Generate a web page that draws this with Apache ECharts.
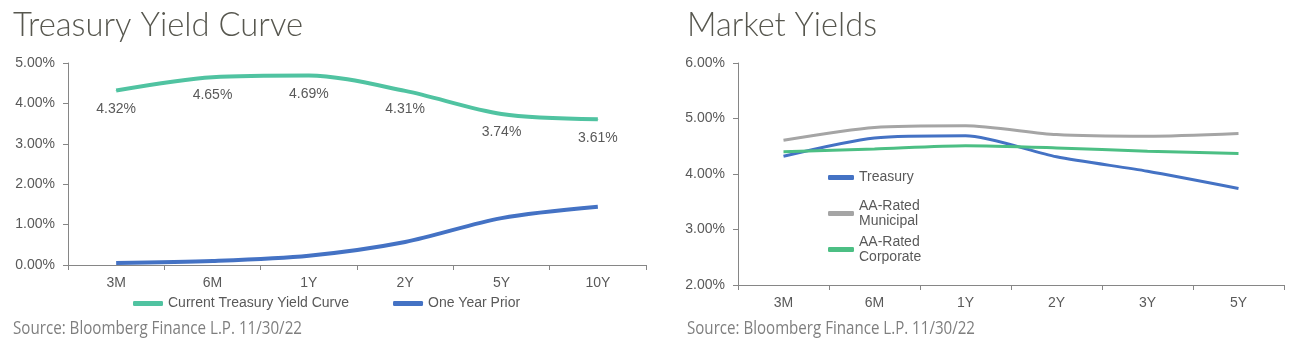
<!DOCTYPE html>
<html>
<head>
<meta charset="utf-8">
<script src="https://cdn.jsdelivr.net/npm/echarts@6/dist/echarts.min.js"></script>
<style>
html,body{margin:0;padding:0;background:#fff;}
#chart{width:1314px;height:346px;}
</style>
</head>
<body>
<div id="chart"></div>
<script>
// ---- data ----
const titleLeft = 'Treasury Yield Curve';
const titleRight = 'Market Yields';
const sourceText = 'Source: Bloomberg Finance L.P. 11/30/22';

const treasuryCats = ['3M', '6M', '1Y', '2Y', '5Y', '10Y'];
const currentCurve = [4.32, 4.65, 4.69, 4.31, 3.74, 3.61];
const oneYearPrior = [0.05, 0.10, 0.23, 0.57, 1.16, 1.44];

const marketCats = ['3M', '6M', '1Y', '2Y', '3Y', '5Y'];
const treasuryYields = [4.32, 4.65, 4.69, 4.31, 4.05, 3.74];
const municipalYields = [4.61, 4.84, 4.87, 4.71, 4.68, 4.73];
const corporateYields = [4.40, 4.45, 4.51, 4.47, 4.41, 4.37];

const leftNames = ['Current Treasury Yield Curve', 'One Year Prior'];
const rightNames = ['Treasury', 'AA-Rated\nMunicipal', 'AA-Rated\nCorporate'];

// ---- styling ----
const axisGray = '#868686';
const labelGray = '#595959';
const titleColor = '#57574f';
const srcColor = '#7f7f7f';
const cGreen = '#50c3a1';
const cBlue = '#4472c4';
const cGray = '#a5a5a5';
const cGreen2 = '#4cbf84';
const fs = 14;
const ff = 'Liberation Sans, Arial';

const ctx = document.createElement('canvas').getContext('2d');
function textW(t, font) { ctx.font = font; return ctx.measureText(t).width; }
const titleFont = '300 33px Lato';
const srcFont = '18px "Open Sans"';

function titleEl(text, x, targetW) {
  const s = targetW / textW(text, titleFont);
  return { type: 'text', x: x, y: 25, scaleX: s, style: { text: text, font: titleFont, fill: titleColor, verticalAlign: 'middle', align: 'left' } };
}
function srcEl(text, x, targetW) {
  const s = targetW / textW(text, srcFont);
  return { type: 'text', x: x, y: 329, scaleX: s, style: { text: text, font: srcFont, fill: srcColor, verticalAlign: 'middle', align: 'left' } };
}

const pct = v => v.toFixed(2) + '%';

function xAxis(gi, cats) {
  return {
    type: 'category', gridIndex: gi, data: cats, boundaryGap: true,
    axisLine: { lineStyle: { color: axisGray, width: 1 } },
    axisTick: { show: true, length: 5, interval: 0, lineStyle: { color: axisGray } },
    axisLabel: { color: labelGray, fontSize: fs, fontFamily: ff, margin: 11, interval: 0 },
    splitLine: { show: false }
  };
}
function yAxis(gi, min, max) {
  return {
    type: 'value', gridIndex: gi, min: min, max: max, interval: 1,
    axisLine: { show: true, lineStyle: { color: axisGray, width: 1 } },
    axisTick: { show: true, length: 5, lineStyle: { color: axisGray } },
    axisLabel: { color: labelGray, fontSize: fs, fontFamily: ff, margin: 13, formatter: pct },
    splitLine: { show: false }
  };
}

const legendText = { color: labelGray, fontSize: fs, fontFamily: ff, lineHeight: 15 };
const legendText2 = Object.assign({}, legendText, { padding: [15, 0, 0, 0] });

const chart = echarts.init(document.getElementById('chart'), null, { renderer: 'canvas' });
chart.setOption({
  animation: false,
  backgroundColor: '#fff',
  graphic: [
    titleEl(titleLeft, 13, 290),
    titleEl(titleRight, 687, 190),
    srcEl(sourceText, 13, 289),
    srcEl(sourceText, 687, 288)
  ],
  grid: [
    { left: 68, top: 63, width: 578, height: 202 },
    { left: 738, top: 63, width: 546, height: 222 }
  ],
  xAxis: [xAxis(0, treasuryCats), xAxis(1, marketCats)],
  yAxis: [yAxis(0, 0, 5), yAxis(1, 2, 6)],
  legend: [
    { data: leftNames, left: 133, top: 296, padding: 0, orient: 'horizontal', itemWidth: 30, itemHeight: 5, itemGap: 44, icon: 'roundRect', textStyle: legendText, selectedMode: false },
    { data: [rightNames[0]], left: 828, top: 170, padding: 0, itemWidth: 26, itemHeight: 5, icon: 'roundRect', textStyle: legendText, selectedMode: false },
    { data: [rightNames[1]], left: 828, top: 191, padding: 0, itemWidth: 26, itemHeight: 5, icon: 'roundRect', textStyle: legendText2, selectedMode: false },
    { data: [rightNames[2]], left: 828, top: 227, padding: 0, itemWidth: 26, itemHeight: 5, icon: 'roundRect', textStyle: legendText2, selectedMode: false }
  ],
  series: [
    {
      name: leftNames[0], type: 'line', xAxisIndex: 0, yAxisIndex: 0, data: currentCurve,
      smooth: 0.3, symbol: 'circle', symbolSize: 1, showSymbol: true,
      lineStyle: { color: cGreen, width: 4 }, itemStyle: { color: cGreen },
      label: { show: true, position: 'bottom', distance: 11, color: labelGray, fontSize: fs, fontFamily: ff, formatter: p => pct(p.value) }
    },
    {
      name: leftNames[1], type: 'line', xAxisIndex: 0, yAxisIndex: 0, data: oneYearPrior,
      smooth: 0.3, symbol: 'none',
      lineStyle: { color: cBlue, width: 4 }, itemStyle: { color: cBlue }
    },
    {
      name: rightNames[0], type: 'line', xAxisIndex: 1, yAxisIndex: 1, data: treasuryYields,
      smooth: 0.25, symbol: 'none',
      lineStyle: { color: cBlue, width: 3 }, itemStyle: { color: cBlue }
    },
    {
      name: rightNames[1], type: 'line', xAxisIndex: 1, yAxisIndex: 1, data: municipalYields,
      smooth: 0.25, symbol: 'none',
      lineStyle: { color: cGray, width: 3 }, itemStyle: { color: cGray }
    },
    {
      name: rightNames[2], type: 'line', xAxisIndex: 1, yAxisIndex: 1, data: corporateYields,
      smooth: 0.25, symbol: 'none',
      lineStyle: { color: cGreen2, width: 3 }, itemStyle: { color: cGreen2 }
    }
  ]
});
</script>
</body>
</html>
